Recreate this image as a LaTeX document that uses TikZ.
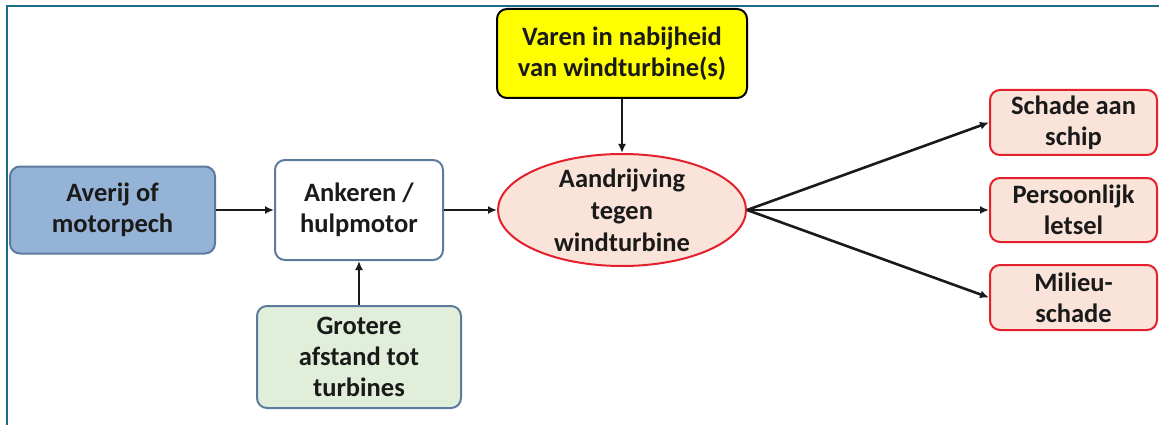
\documentclass[tikz,border=0pt]{standalone}
\usepackage{fontspec}
\setmainfont{Carlito}
\usetikzlibrary{arrows.meta,shapes.geometric}
\definecolor{frameteal}{HTML}{1F6A86}
\definecolor{bluefill}{HTML}{95B3D7}
\definecolor{blueedge}{HTML}{5B7A9C}
\definecolor{greenfill}{HTML}{E1EEDA}
\definecolor{pinkfill}{HTML}{FAE4DA}
\definecolor{rededge}{HTML}{E3202B}
\definecolor{yellowfill}{HTML}{FFFF00}
\definecolor{txt}{HTML}{1A1A1A}
\tikzset{
  box/.style={draw, rounded corners=10pt, line width=2pt, align=center, text=txt,
    inner sep=0pt, font=\fontsize{26.5}{31}\selectfont\bfseries},
  bluebox/.style={box, fill=bluefill, draw=blueedge},
  whitebox/.style={box, fill=white, draw=blueedge},
  greenbox/.style={box, fill=greenfill, draw=blueedge},
  yellowbox/.style={box, fill=yellowfill, draw=black},
  redbox/.style={box, fill=pinkfill, draw=rededge},
  ellnode/.style={ellipse, draw=rededge, fill=pinkfill, line width=2pt, inner sep=0pt},
  lbl/.style={align=center, text=txt, inner sep=0pt, font=\fontsize{26.5}{32}\selectfont\bfseries},
  arr/.style={-{Latex[length=9pt,width=8pt]}, line width=2.6pt, draw=txt},
  framel/.style={draw=frameteal, line width=2.5pt}
}
\begin{document}
\begin{tikzpicture}[x=1pt,y=-1pt]
\useasboundingbox (0,0) rectangle (1159,425);
\draw[framel] (7,425) -- (7,6) -- (1159,6);

\node[bluebox, minimum width=205pt, minimum height=87pt] (av) at (112.5,210) {Averij of\\motorpech};
\node[whitebox, minimum width=168pt, minimum height=100pt] (ank) at (359,210) {Ankeren /\\hulpmotor};
\node[greenbox, minimum width=204pt, minimum height=102pt] (gro) at (359,357) {Grotere\\afstand tot\\turbines};
\node[yellowbox, minimum width=250pt, minimum height=89pt] (var) at (622,53.5) {Varen in nabijheid\\van windturbine(s)};
\node[ellnode, minimum width=248pt, minimum height=112pt,
  label={[lbl]center:{Aandrijving\\tegen\\windturbine}}] (ell) at (622,210) {};
\node[redbox, minimum width=167pt, minimum height=65pt] (sch) at (1073.5,122.5) {Schade aan\\schip};
\node[redbox, minimum width=167pt, minimum height=64pt] (per) at (1073.5,210) {Persoonlijk\\letsel};
\node[redbox, minimum width=167pt, minimum height=65pt] (mil) at (1073.5,297.5) {Milieu-\\schade};

\draw[arr] (av.east) -- (ank.west);
\draw[arr] (ank.east) -- (ell.west);
\draw[arr] (gro.north) -- (ank.south);
\draw[arr] (var.south) -- (ell.north);
\draw[arr] (ell.east) -- (sch.west);
\draw[arr] (ell.east) -- (per.west);
\draw[arr] (ell.east) -- (mil.west);
\end{tikzpicture}
\end{document}
